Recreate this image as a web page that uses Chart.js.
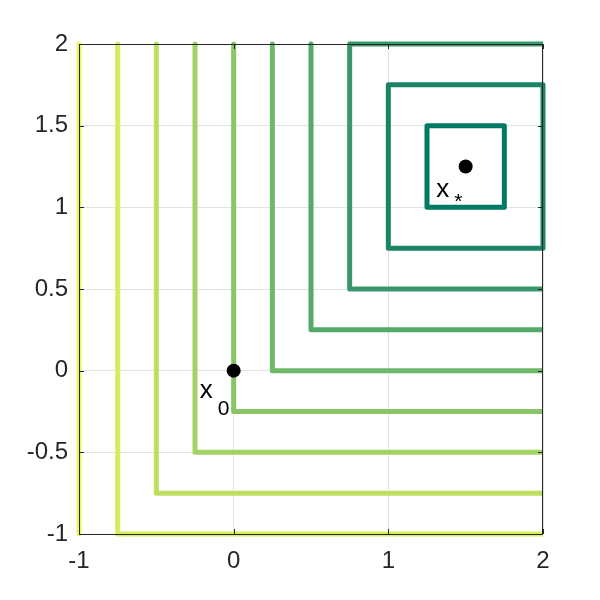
<!DOCTYPE html>
<html>
<head>
<meta charset="utf-8">
<script src="https://cdn.jsdelivr.net/npm/chart.js@4.4.1/dist/chart.umd.min.js"></script>
<style>
  html, body { margin: 0; padding: 0; background: #fff; }
  #wrap { width: 600px; height: 600px; }
</style>
</head>
<body>
<div id="wrap"><canvas id="chart" width="600" height="600"></canvas></div>
<script>
// contour levels of max(|x - 1.5|, |y - 1.25|)
const levels = [0.25, 0.5, 0.75, 1.0, 1.25, 1.5, 1.75, 2.0, 2.25, 2.5];
const levelColors = ['#007a62', '#1c8466', '#3a976b', '#55a96a', '#6db869', '#88c566',
                     '#a3d264', '#bedf62', '#d7ec5f', '#ecf65c'];
const center = [1.5, 1.25];
const pointX = [0, 1.5];   // x0, x*
const pointY = [0, 1.25];
const xTicks = [-1, 0, 1, 2];
const yTicks = [-1, -0.5, 0, 0.5, 1, 1.5, 2];
const axisMin = -1, axisMax = 2;

const FONT = '"Liberation Sans", Arial, Helvetica, sans-serif';
const EPS = 1e-9;

function inBox(v) { return v >= axisMin - EPS && v <= axisMax + EPS; }
function clamp(v) { return Math.max(axisMin, Math.min(axisMax, v)); }

// split the square of one level into the pieces that lie inside the axes
function levelPieces(L) {
    const l = center[0] - L, r = center[0] + L, b = center[1] - L, t = center[1] + L;
    const corners = [[l, t], [l, b], [r, b], [r, t], [l, t]];
    const pieces = [];
    let cur = null;
    for (let i = 0; i < 4; i++) {
        const p = corners[i], q = corners[i + 1];
        const vertical = p[0] === q[0];
        const visible = vertical
            ? inBox(p[0]) && Math.max(p[1], q[1]) >= axisMin && Math.min(p[1], q[1]) <= axisMax
            : inBox(p[1]) && Math.max(p[0], q[0]) >= axisMin && Math.min(p[0], q[0]) <= axisMax;
        if (!visible) { cur = null; continue; }
        const a = {x: clamp(p[0]), y: clamp(p[1])};
        const c = {x: clamp(q[0]), y: clamp(q[1])};
        if (cur) {
            cur.push(c);
        } else {
            cur = [a, c];
            pieces.push(cur);
        }
    }
    // closed square: add the second point again so the last corner is joined
    if (pieces.length === 1 && pieces[0].length === 5) {
        pieces[0].push(pieces[0][1]);
    }
    return pieces;
}

const datasets = [{
    data: pointX.map((x, i) => ({x: x, y: pointY[i]})),
    showLine: false,
    pointRadius: 7,
    pointBackgroundColor: '#000',
    pointBorderWidth: 0,
    order: 0
}];
levels.forEach((L, i) => {
    levelPieces(L).forEach(piece => {
        datasets.push({
            data: piece,
            showLine: true,
            borderColor: levelColors[i],
            borderWidth: 5,
            borderJoinStyle: 'round',
            borderCapStyle: 'butt',
            pointRadius: 0,
            clip: 4,
            order: 1
        });
    });
});

const boxPlugin = {
    id: 'boxPlugin',
    afterDatasetsDraw(chart) {
        const ctx = chart.ctx, a = chart.chartArea;
        const xs = chart.scales.x, ys = chart.scales.y;
        ctx.save();
        ctx.strokeStyle = '#262626';
        ctx.lineWidth = 1;
        ctx.strokeRect(a.left + 0.5, a.top + 0.5, a.right - a.left - 1, a.bottom - a.top);
        ctx.beginPath();
        xTicks.forEach(v => {
            const px = Math.round(xs.getPixelForValue(v)) + 0.5;
            ctx.moveTo(px, a.bottom); ctx.lineTo(px, a.bottom - 5);
            ctx.moveTo(px, a.top); ctx.lineTo(px, a.top + 5);
        });
        yTicks.forEach(v => {
            const py = Math.round(ys.getPixelForValue(v)) + 0.5;
            ctx.moveTo(a.left, py); ctx.lineTo(a.left + 5, py);
            ctx.moveTo(a.right, py); ctx.lineTo(a.right - 5, py);
        });
        ctx.stroke();

        // point labels x0 and x*
        ctx.fillStyle = '#000';
        ctx.textBaseline = 'alphabetic';
        ctx.textAlign = 'left';
        const labels = [
            {x: -0.22, y: -0.167, sub: '0', subDx: 18, subDy: 17},
            {x: 1.31, y: 1.063, sub: '*', subDx: 18, subDy: 11}
        ];
        labels.forEach(lb => {
            const px = xs.getPixelForValue(lb.x), py = ys.getPixelForValue(lb.y);
            ctx.font = '26px ' + FONT;
            ctx.fillText('x', px, py);
            ctx.font = '21px ' + FONT;
            ctx.fillText(lb.sub, px + lb.subDx, py + lb.subDy);
        });
        ctx.restore();
    }
};

new Chart(document.getElementById('chart'), {
    type: 'scatter',
    data: {datasets: datasets},
    options: {
        responsive: false,
        animation: false,
        layout: {padding: {top: 44, right: 57, left: 0, bottom: 0}},
        plugins: {legend: {display: false}, tooltip: {enabled: false}},
        scales: {
            x: {
                min: axisMin, max: axisMax,
                afterBuildTicks: s => { s.ticks = xTicks.map(v => ({value: v})); },
                afterFit: s => { s.height = 66; },
                grid: {color: '#e2e2e2', drawTicks: false},
                border: {display: false},
                ticks: {color: '#262626', font: {family: FONT, size: 24}, padding: 13, maxRotation: 0,
                        callback: v => String(v)}
            },
            y: {
                min: axisMin, max: axisMax,
                afterBuildTicks: s => { s.ticks = yTicks.map(v => ({value: v})); },
                afterFit: s => { s.width = 79; },
                grid: {color: '#e2e2e2', drawTicks: false},
                border: {display: false},
                ticks: {color: '#262626', font: {family: FONT, size: 24}, padding: 11,
                        callback: v => String(v)}
            }
        }
    },
    plugins: [boxPlugin]
});
</script>
</body>
</html>
